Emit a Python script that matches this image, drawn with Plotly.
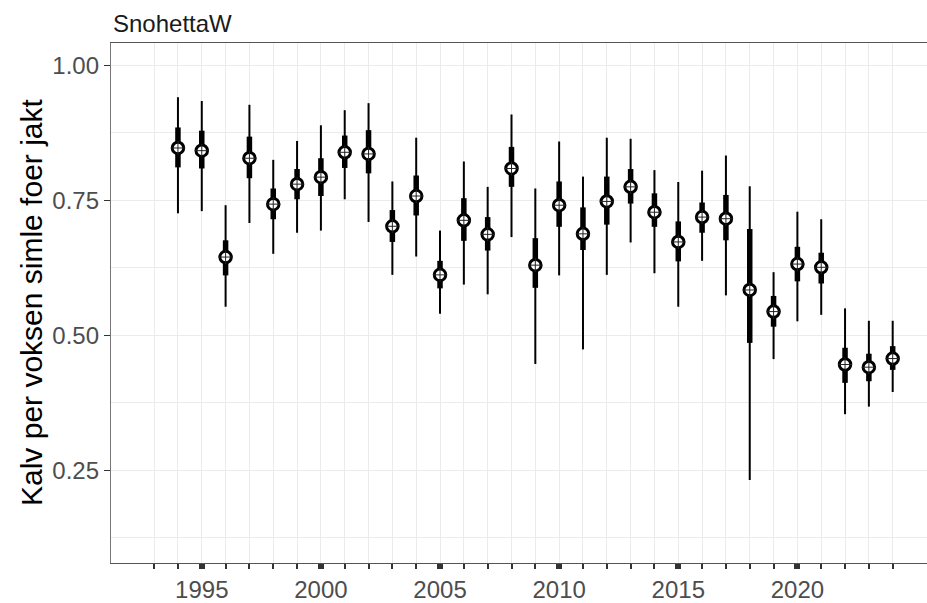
import plotly.graph_objects as go

# Posterior summaries per year: median, 50% interval (inner) and 95% interval (outer)
years = list(range(1994, 2025))
median = [0.847, 0.842, 0.645, 0.828, 0.743, 0.780, 0.793, 0.839, 0.836, 0.702,
          0.758, 0.612, 0.713, 0.687, 0.809, 0.630, 0.741, 0.688, 0.748, 0.775,
          0.728, 0.673, 0.719, 0.716, 0.584, 0.544, 0.632, 0.626, 0.446, 0.441,
          0.457]
inner_lo = [0.811, 0.809, 0.611, 0.791, 0.715, 0.752, 0.758, 0.810, 0.800, 0.673,
            0.722, 0.587, 0.675, 0.657, 0.775, 0.588, 0.701, 0.658, 0.705, 0.744,
            0.701, 0.637, 0.690, 0.676, 0.486, 0.516, 0.600, 0.596, 0.412, 0.415,
            0.436]
inner_hi = [0.885, 0.879, 0.676, 0.868, 0.772, 0.808, 0.828, 0.870, 0.880, 0.732,
            0.796, 0.638, 0.754, 0.719, 0.849, 0.680, 0.785, 0.737, 0.794, 0.808,
            0.763, 0.711, 0.746, 0.760, 0.697, 0.573, 0.664, 0.653, 0.477, 0.466,
            0.480]
outer_lo = [0.726, 0.730, 0.553, 0.708, 0.651, 0.690, 0.694, 0.752, 0.710, 0.612,
            0.646, 0.540, 0.594, 0.576, 0.682, 0.447, 0.611, 0.474, 0.612, 0.672,
            0.615, 0.553, 0.638, 0.574, 0.232, 0.456, 0.526, 0.538, 0.354, 0.368,
            0.395]
outer_hi = [0.941, 0.934, 0.741, 0.927, 0.825, 0.860, 0.889, 0.917, 0.930, 0.785,
            0.866, 0.694, 0.822, 0.775, 0.909, 0.772, 0.859, 0.794, 0.866, 0.864,
            0.806, 0.784, 0.805, 0.833, 0.776, 0.617, 0.729, 0.715, 0.550, 0.527,
            0.527]

major_years = [1995, 2000, 2005, 2010, 2015, 2020]
minor_years = list(range(1993, 2025))
y_ticks = [0.25, 0.50, 0.75, 1.00]
y_tick_text = ["0.25", "0.50", "0.75", "1.00"]
y_minor = [0.125, 0.375, 0.625, 0.875]

panel_title = "SnohettaW"
y_title = "Kalv per voksen simle foer jakt"

FONT = "Liberation Sans, Arial, Helvetica, sans-serif"
GRID = "#EBEBEB"
INK = "#000000"

fig = go.Figure()

# outer (thin) interval
fig.add_trace(go.Scatter(
    x=years, y=median, mode="markers",
    marker=dict(size=0.1, color="rgba(0,0,0,0)"),
    error_y=dict(type="data", symmetric=False,
                 array=[h - m for h, m in zip(outer_hi, median)],
                 arrayminus=[m - l for m, l in zip(median, outer_lo)],
                 thickness=2, width=0, color=INK),
    hoverinfo="skip", showlegend=False,
))

# inner (thick) interval
fig.add_trace(go.Scatter(
    x=years, y=median, mode="markers",
    marker=dict(size=0.1, color="rgba(0,0,0,0)"),
    error_y=dict(type="data", symmetric=False,
                 array=[h - m for h, m in zip(inner_hi, median)],
                 arrayminus=[m - l for m, l in zip(median, inner_lo)],
                 thickness=5.5, width=0, color=INK),
    hoverinfo="skip", showlegend=False,
))

# median: ring with a thin cross inside
fig.add_trace(go.Scatter(
    x=years, y=median, mode="markers",
    marker=dict(symbol="circle", size=11.5, color="white",
                line=dict(color=INK, width=3)),
    showlegend=False,
))
fig.add_trace(go.Scatter(
    x=years, y=median, mode="markers",
    marker=dict(symbol="cross-thin-open", size=10, color="#222222",
                line=dict(color="#222222", width=1)),
    hoverinfo="skip", showlegend=False,
))

fig.update_layout(
    width=927, height=603,
    margin=dict(l=111, r=0, t=43, b=32),
    paper_bgcolor="white", plot_bgcolor="white",
    font=dict(family=FONT, color="#4D4D4D", size=24),
    xaxis=dict(
        range=[1991.19, 2025.44],
        tickmode="array", tickvals=major_years,
        ticks="outside", ticklen=5, tickwidth=6, tickcolor="#333333",
        showgrid=True, gridcolor=GRID, gridwidth=1.4,
        showline=True, linecolor="#555555", linewidth=1.3, mirror=True,
        zeroline=False,
        tickfont=dict(size=24, color="#4D4D4D"),
        minor=dict(tickmode="array", tickvals=minor_years,
                   ticks="outside", ticklen=5, tickwidth=1.5,
                   tickcolor="#333333",
                   showgrid=True, gridcolor=GRID, gridwidth=1.4),
    ),
    yaxis=dict(
        range=[0.0784, 1.0414],
        tickmode="array", tickvals=y_ticks, ticktext=y_tick_text,
        ticks="outside", ticklen=6, tickwidth=1.3, tickcolor="#333333",
        showgrid=True, gridcolor=GRID, gridwidth=1.4,
        showline=True, linecolor="#777777", linewidth=1.3, mirror=False,
        zeroline=False,
        tickfont=dict(size=24, color="#4D4D4D"),
        minor=dict(tickmode="array", tickvals=y_minor, ticks="",
                   showgrid=True, gridcolor=GRID, gridwidth=1.4),
    ),
    annotations=[
        dict(text=panel_title, xref="paper", yref="paper", x=0, y=1,
             xanchor="left", yanchor="bottom", yshift=4, showarrow=False,
             font=dict(family=FONT, size=24, color="#1A1A1A")),
        dict(text=y_title, xref="paper", yref="paper", x=0, y=0.5,
             xanchor="center", yanchor="middle", xshift=-80, textangle=-90,
             showarrow=False,
             font=dict(family=FONT, size=30, color="#000000")),
    ],
)

fig.write_html("out.html")
